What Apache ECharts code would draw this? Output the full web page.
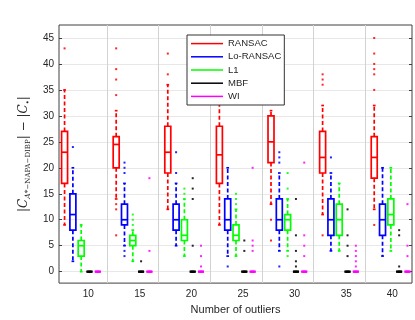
<!DOCTYPE html>
<html><head><meta charset="utf-8">
<script src="https://cdn.jsdelivr.net/npm/echarts@6/dist/echarts.min.js"></script>
<style>html,body{margin:0;padding:0;background:#fff}#c{width:415px;height:320px}</style>
</head><body><div id="c"></div>
<script>
// ---- data ----
const categories = ['10', '15', '20', '25', '30', '35', '40'];
const seriesNames = ['RANSAC', 'Lo-RANSAC', 'L1', 'MBF', 'WI'];
// box stats per category: [lower whisker, Q1, median, Q3, upper whisker]
const ransacBox = [[9,17,23,27,35],[14,20,24.5,26,31],[12,19,23,28,36],[9,17,22.5,28,34],[13,21,25,30,31],[11,19,22,27,32],[12,18,22,26,32]];
const ransacOut = [[43],[43,39,37,34,13,12,7],[42,38],[],[10,6],[38,37,36,7],[45,42,40,39,38,35,9]];
const loRansacBox = [[2,8,11,15,20],[5,9,10,13,17],[5,8,10,13,17],[3,8,10,14,20],[4,8,10,14,19],[4,7,10,14,19],[3,7,10,13,20]];
const loRansacOut = [[24],[21,20,19,4,3],[23,19],[1],[23,22,21,1],[22],[]];
const l1Box = [[0,3,5,6,9],[2,5,6,7,8],[3,6,7,10,14],[3,6,7,9,12],[4,8,10,11,14],[4,7,10,13,17],[4,9,11,14,20]];
const l1Out = [[],[11,10,9],[16,15],[15,14,13],[19,16,3],[],[]];
const mbfBox = [[0,0,0,0,0],[0,0,0,0,0],[0,0,0,0,0],[0,0,0,0,0],[0,0,0,0,0],[0,0,0,0,0],[0,0,0,0,0]];
const mbfOut = [[],[2],[18,16,14,5],[6,4],[14,7,4,2,1],[12,7,5,3],[8,7,1]];
const wiBox = [[0,0,0,0,0],[0,0,0,0,0],[0,0,0,0,0],[0,0,0,0,0],[0,0,0,0,0],[0,0,0,0,0],[0,0,0,0,0]];
const wiOut = [[],[18,4],[5,3,1],[20,6,5,4],[21,7,5,3],[5,4,3,2,1],[13,5,3]];
const yTicks = [0, 5, 10, 15, 20, 25, 30, 35, 40, 45];
const catPositions = [1, 2, 3, 4, 5, 6, 7];
const groupBounds = [1.5, 2.5, 3.5, 4.5, 5.5, 6.5];

// ---- style / layout ----
const COLORS = ['#ff0000', '#0000ff', '#00ff00', '#000000', '#ff00ff'];
const BOX_STEP = 0.161; // offset between boxes within a group, in axis units
const BOX_W = 0.116;    // box width, in axis units
const LW = 1.7;
const allBoxes = [ransacBox, loRansacBox, l1Box, mbfBox, wiBox];
const allOut = [ransacOut, loRansacOut, l1Out, mbfOut, wiOut];

function boxRender(si) {
  return function (params, api) {
    const pos = api.value(0);
    const unit = api.size([1, 0])[0];
    const cx = api.coord([pos, 0])[0] + (si - 2) * BOX_STEP * unit;
    const w = BOX_W * unit;
    const yv = i => api.coord([pos, api.value(i)])[1];
    const lo = yv(1), q1 = yv(2), md = yv(3), q3 = yv(4), hi = yv(5);
    const col = COLORS[si];
    const dash = { stroke: col, lineWidth: LW, lineDash: [4, 2.5], fill: 'none' };
    const solid = { stroke: col, lineWidth: LW, fill: 'none' };
    const cap = w * 0.45;
    const flat = Math.abs(q1 - q3) < 0.5;
    return {
      type: 'group',
      children: [
        { type: 'line', shape: { x1: cx, y1: q3, x2: cx, y2: hi }, style: dash },
        { type: 'line', shape: { x1: cx, y1: q1, x2: cx, y2: lo }, style: dash },
        { type: 'line', shape: { x1: cx - cap / 2, y1: hi, x2: cx + cap / 2, y2: hi }, style: solid },
        { type: 'line', shape: { x1: cx - cap / 2, y1: lo, x2: cx + cap / 2, y2: lo }, style: solid },
        { type: 'rect', shape: { x: cx - w / 2, y: q3, width: w, height: q1 - q3 }, style: solid },
        { type: 'line', shape: { x1: cx - w / 2, y1: md, x2: cx + w / 2, y2: md }, style: { stroke: col, lineWidth: flat ? 2.4 : LW } }
      ]
    };
  };
}
function outRender(si) {
  return function (params, api) {
    const unit = api.size([1, 0])[0];
    const p = api.coord([api.value(0), api.value(1)]);
    const x = p[0] + (si - 2) * BOX_STEP * unit;
    return { type: 'rect', shape: { x: x - 1, y: p[1] - 1, width: 2, height: 2 }, style: { fill: COLORS[si], opacity: 0.85 } };
  };
}

const series = [];
seriesNames.forEach((name, si) => {
  series.push({
    name, type: 'custom', xAxisIndex: 0, yAxisIndex: 0,
    itemStyle: { color: COLORS[si] },
    renderItem: boxRender(si),
    encode: { x: 0, y: [1, 2, 3, 4, 5] },
    data: allBoxes[si].map((b, ci) => [catPositions[ci]].concat(b))
  });
});
seriesNames.forEach((name, si) => {
  const pts = [];
  allOut[si].forEach((arr, ci) => arr.forEach(v => pts.push([catPositions[ci], v])));
  series.push({
    name, type: 'custom', xAxisIndex: 0, yAxisIndex: 0,
    itemStyle: { color: COLORS[si] },
    renderItem: outRender(si),
    encode: { x: 0, y: 1 },
    data: pts
  });
});

const catLabel = v => {
  const i = catPositions.findIndex(p => Math.abs(p - v) < 1e-6);
  if (i < 0) return '';
  return (i === categories.length - 1 ? '{b|' : '{a|') + categories[i] + '}';
};

const chart = echarts.init(document.getElementById('c'));
chart.setOption({
  animation: false,
  textStyle: { fontFamily: 'Liberation Sans' },
  grid: { left: 59, right: 3, top: 25, bottom: 29, show: true, borderColor: '#404040', borderWidth: 1, backgroundColor: 'transparent' },
  legend: {
    orient: 'vertical', left: 187, top: 35, padding: [2, 3, 2, 4],
    itemWidth: 32, itemHeight: 1.5, itemGap: 0,
    backgroundColor: '#fff', borderColor: '#333', borderWidth: 1,
    textStyle: { fontSize: 9.5, lineHeight: 13.2, color: '#262626', fontFamily: 'Liberation Sans' },
    data: seriesNames.map((n, i) => ({ name: n, icon: 'rect', itemStyle: { color: COLORS[i] } })),
    z: 10
  },
  xAxis: [
    {
      type: 'value', min: 0.57, max: 7.41, position: 'bottom',
      axisLine: { show: false }, axisTick: { show: false }, splitLine: { show: false },
      axisLabel: {
        customValues: catPositions,
        formatter: catLabel, margin: 6, fontSize: 10, color: '#262626',
        rich: { a: { fontSize: 10, color: '#262626', padding: [0, 0, 0, 14] }, b: { fontSize: 10, color: '#262626', padding: [0, 0, 0, 3] } }
      },
      name: 'Number of outliers', nameLocation: 'middle', nameGap: 16,
      nameTextStyle: { fontSize: 11, color: '#262626' }
    },
    {
      type: 'value', min: 0.57, max: 7.41, position: 'bottom',
      axisLine: { show: false }, axisLabel: { show: false },
      axisTick: { show: true, customValues: groupBounds, length: 0, lineStyle: { color: 'rgba(0,0,0,0)' } },
      splitLine: { show: true, lineStyle: { color: '#d2d2d2', width: 1 } }
    }
  ],
  yAxis: [
    {
      type: 'value', min: -2.2, max: 47.5,
      axisLine: { show: false },
      axisTick: { show: true, inside: true, length: 3, customValues: yTicks, lineStyle: { color: '#404040' } },
      axisLabel: { customValues: yTicks, margin: 5, fontSize: 10, color: '#262626' },
      splitLine: { show: true, lineStyle: { color: '#e8e8e8', width: 1 } },
      name: '{n||}{c|C}{si|A*}{s|\u2212NAPA\u2212DIBP}{n|| \u2212 |}{c|C}{s|\u2022}{n||}',
      nameLocation: 'middle', nameGap: 20,
      nameTextStyle: {
        color: '#262626', fontFamily: 'DejaVu Serif', fontSize: 12,
        rich: {
          n: { fontFamily: 'DejaVu Serif', fontSize: 12, lineHeight: 16, color: '#262626' },
          c: { fontFamily: 'DejaVu Serif', fontStyle: 'italic', fontSize: 12, lineHeight: 16, color: '#262626' },
          si: { fontFamily: 'DejaVu Serif', fontStyle: 'italic', fontSize: 7.5, lineHeight: 8, verticalAlign: 'bottom', color: '#262626' },
          s: { fontFamily: 'DejaVu Serif', fontSize: 7, lineHeight: 8, verticalAlign: 'bottom', color: '#262626' }
        }
      }
    },
    {
      type: 'value', min: -2.2, max: 47.5, position: 'right',
      axisLine: { show: false }, axisLabel: { show: false }, splitLine: { show: false },
      axisTick: { show: true, inside: true, length: 3, customValues: yTicks, lineStyle: { color: '#404040' } }
    }
  ],
  series
});
</script></body></html>
